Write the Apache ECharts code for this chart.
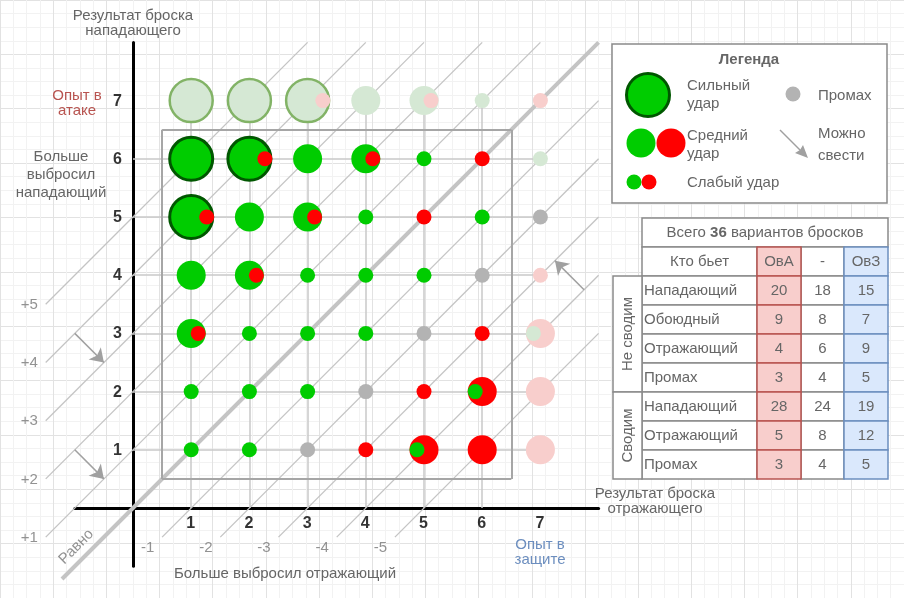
<!DOCTYPE html>
<html><head><meta charset="utf-8">
<script src="https://cdn.jsdelivr.net/npm/echarts@6/dist/echarts.min.js"></script>
<style>html,body{margin:0;padding:0;background:#fff}#c{width:904px;height:598px}</style>
</head><body><div id="c"></div>
<script>
// ---------- DATA ----------
const xTicks = [1, 2, 3, 4, 5, 6, 7];
const yTicks = [1, 2, 3, 4, 5, 6, 7];
const upperDiagK = [1, 2, 3, 4, 5];   // lines y = x + k
const lowerDiagK = [1, 2, 3, 4, 5];   // lines y = x - k
const strongGreen = [[1, 6], [2, 6], [1, 5]];
const mediumGreen = [[3, 6], [4, 6], [2, 5], [3, 5], [1, 4], [2, 4], [1, 3]];
const mediumRed = [[6, 2], [5, 1], [6, 1]];
const smallGreen = [[5, 6], [4, 5], [6, 5], [3, 4], [4, 4], [5, 4], [2, 3], [3, 3], [4, 3], [1, 2], [2, 2], [3, 2], [1, 1], [2, 1], [6, 2], [5, 1]];
const smallRed = [[2, 6], [4, 6], [6, 6], [1, 5], [3, 5], [5, 5], [2, 4], [1, 3], [6, 3], [5, 2], [4, 1]];
const smallGray = [[7, 5], [6, 4], [5, 3], [4, 2], [3, 1]];
const expLarge = [[1, 7], [2, 7], [3, 7]];
const expMediumGreen = [[4, 7], [5, 7]];
const expSmallGreen = [[6, 7], [7, 6], [7, 3]];
const expMediumPink = [[7, 3], [7, 2], [7, 1]];
const expSmallPink = [[3, 7], [5, 7], [7, 7], [7, 4]];
const reduceArrows = [[-1, 3, -0.5, 2.5], [-1, 1, -0.5, 0.5], [7.75, 3.75, 7.25, 4.25]];

const tableTotal = 36;
const tableCols = ['ОвА', '-', 'ОвЗ'];
const tableGroups = ['Не сводим', 'Сводим'];
const groupSizes = [4, 3];
const rowLabels = ['Нападающий', 'Обоюдный', 'Отражающий', 'Промах', 'Нападающий', 'Отражающий', 'Промах'];
const valOvA = [20, 9, 4, 3, 28, 5, 3];
const valMid = [18, 8, 6, 4, 24, 8, 4];
const valOvZ = [15, 7, 9, 5, 19, 12, 5];

// ---------- LAYOUT ----------
const U = 58.2, OX = 133, OY = 508;
const FF = '"Liberation Sans", Arial, sans-serif';
const TXT = '#666666';
const GREEN = '#00cc00', RED = '#ff0000', GRAY = '#b3b3b3';
const FGREEN = '#d5e8d4', FGREEN_B = '#82b366', PINK = '#f8cecc';
const SZ = { strong: 43, strongB: 3, exp: 43, expB: 2.5, medium: 29, small: 15 };

function has(arr, x, y) { return arr.some(p => p[0] === x && p[1] === y); }
function outerR(x, y) {
  if (has(strongGreen, x, y)) return (SZ.strong + SZ.strongB) / 2;
  if (has(expLarge, x, y)) return (SZ.exp + SZ.expB) / 2;
  if (has(mediumGreen, x, y) || has(mediumRed, x, y) || has(expMediumGreen, x, y) || has(expMediumPink, x, y)) return SZ.medium / 2;
  return 0;
}
function smallItems(arr, dir) {
  return arr.map(([x, y]) => {
    const R = outerR(x, y);
    return { value: [x, y], symbolOffset: [R ? dir * (R - SZ.small / 2) : 0, 0] };
  });
}
function bubble(name, data, size, style) {
  return { type: 'scatter', name, xAxisIndex: 1, yAxisIndex: 1, symbol: 'circle', symbolSize: size,
    data, itemStyle: Object.assign({ opacity: 1 }, style), silent: true, z: 5, clip: false };
}
function seg(x1, y1, x2, y2) { return { coords: [[x1, y1], [x2, y2]] }; }

// structural lines
const gridSegs = [];
xTicks.slice(0, 6).forEach(v => gridSegs.push(seg(v, 0, v, 7)));
yTicks.slice(0, 6).forEach(v => gridSegs.push(seg(0, v, 7, v)));
const rectSegs = [seg(0.5, 0.5, 6.5, 0.5), seg(6.5, 0.5, 6.5, 6.5), seg(6.5, 6.5, 0.5, 6.5), seg(0.5, 6.5, 0.5, 0.5)];
const diagSegs = [];
upperDiagK.forEach(k => diagSegs.push(seg(-1.5, k - 1.5, 8 - k, 8)));
lowerDiagK.forEach(k => diagSegs.push(seg(k - 0.5, -0.5, 8, 8 - k)));

function linesSeries(data, color, width, extra) {
  return Object.assign({ type: 'lines', coordinateSystem: 'cartesian2d', xAxisIndex: 1, yAxisIndex: 1,
    polyline: false, silent: true, clip: false, z: 2, symbol: 'none',
    lineStyle: { color, width, opacity: 1, curveness: 0 }, data }, extra || {});
}
function labelSeries(data, label) {
  return { type: 'scatter', xAxisIndex: 1, yAxisIndex: 1, symbolSize: 1, itemStyle: { color: 'rgba(0,0,0,0)' },
    silent: true, clip: false, z: 8, data,
    label: Object.assign({ show: true, formatter: p => p.name, align: 'center', verticalAlign: 'middle' }, label) };
}

const labelFont = { fontFamily: FF, fontSize: 15, color: '#777' };
const tickFont = { fontFamily: FF, fontSize: 16, fontWeight: 'bold', color: '#000' };

const series = [
  linesSeries(gridSegs, '#c8c8c8', 1.5),
  linesSeries(diagSegs, '#c4c4c4', 1.3),
  linesSeries([seg(-1.22, -1.22, 8, 8)], '#c4c4c4', 4),
  linesSeries(rectSegs, '#a6a6a6', 2),
  linesSeries(reduceArrows.map(a => seg(a[0], a[1], a[2], a[3])), '#a0a0a0', 1.5,
    { symbol: ['none', 'arrow'], symbolSize: [10, 13] }),
  // tick labels
  labelSeries(xTicks.map(v => ({ value: [v, 0], name: String(v) })), Object.assign({ position: [0, 16] }, tickFont)),
  labelSeries(yTicks.map(v => ({ value: [0, v], name: String(v) })), Object.assign({ position: [-15, 1] }, tickFont)),
  // diagonal labels
  labelSeries(upperDiagK.map(k => ({ value: [-1.5, k - 1.5], name: '+' + k })), Object.assign({ position: [-16, 1] }, labelFont)),
  labelSeries(lowerDiagK.map(k => ({ value: [k - 0.5, -0.5], name: '-' + k })), Object.assign({ position: [-14, 11] }, labelFont)),
  labelSeries([{ value: [-1, -1], name: 'Равно' }], Object.assign({ position: [2, -19], rotate: 45 }, labelFont)),
  // bubbles
  bubble('expLarge', expLarge, SZ.exp, { color: FGREEN, borderColor: FGREEN_B, borderWidth: SZ.expB }),
  bubble('expMediumGreen', expMediumGreen, SZ.medium, { color: FGREEN }),
  bubble('expMediumPink', expMediumPink, SZ.medium, { color: PINK }),
  bubble('strong', strongGreen, SZ.strong, { color: GREEN, borderColor: '#005700', borderWidth: SZ.strongB }),
  bubble('mediumGreen', mediumGreen, SZ.medium, { color: GREEN }),
  bubble('mediumRed', mediumRed, SZ.medium, { color: RED }),
  bubble('smallGreen', smallItems(smallGreen, -1), SZ.small, { color: GREEN }),
  bubble('smallRed', smallItems(smallRed, 1), SZ.small, { color: RED }),
  bubble('smallGray', smallItems(smallGray, 1), SZ.small, { color: GRAY }),
  bubble('expSmallGreen', smallItems(expSmallGreen, -1), SZ.small, { color: FGREEN }),
  bubble('expSmallPink', smallItems(expSmallPink, 1), SZ.small, { color: PINK })
];

// ---------- GRAPHIC (texts, legend, table) ----------
const G = [];
function text(x, y, t, o) {
  G.push({ type: 'text', x, y, rotation: (o && o.rot) || 0, silent: true, z: 20,
    style: Object.assign({ text: t, x: 0, y: 0, fill: TXT, fontSize: 15, fontFamily: FF,
      align: 'center', verticalAlign: 'middle', lineHeight: 16 }, (o && o.s) || {}) });
}
text(133, 23, 'Результат броска\nнападающего', { s: { lineHeight: 15 } });
text(77, 103, 'Опыт в\nатаке', { s: { fill: '#b85450', lineHeight: 15 } });
text(61, 175, 'Больше\nвыбросил\nнападающий', { s: { lineHeight: 18 } });
text(655, 501, 'Результат броска\nотражающего', { s: { lineHeight: 15 } });
text(540, 552, 'Опыт в\nзащите', { s: { fill: '#6c8ebf', lineHeight: 15 } });
text(285, 574, 'Больше выбросил отражающий');

// legend
G.push({ type: 'rect', shape: { x: 612, y: 44, width: 275, height: 159 }, silent: true, z: 10,
  style: { fill: '#fff', stroke: '#8a8a8a', lineWidth: 1.5 } });
text(749, 60, 'Легенда', { s: { fontWeight: 'bold' } });
function circ(cx, cy, r, fill, stroke, lw) {
  G.push({ type: 'circle', shape: { cx, cy, r }, silent: true, z: 15, style: { fill, stroke: stroke || null, lineWidth: lw || 0 } });
}
circ(648, 95, SZ.strong / 2, GREEN, '#005700', SZ.strongB);
circ(641, 143, SZ.medium / 2, GREEN); circ(671, 143, SZ.medium / 2, RED);
circ(634, 182, SZ.small / 2, GREEN); circ(649, 182, SZ.small / 2, RED);
circ(793, 94, SZ.small / 2, GRAY);
text(687, 95, 'Сильный\nудар', { s: { align: 'left', lineHeight: 18 } });
text(687, 145, 'Средний\nудар', { s: { align: 'left', lineHeight: 18 } });
text(687, 183, 'Слабый удар', { s: { align: 'left' } });
text(818, 96, 'Промах', { s: { align: 'left' } });
text(818, 145, 'Можно\nсвести', { s: { align: 'left', lineHeight: 22 } });
G.push({ type: 'line', shape: { x1: 780, y1: 130, x2: 804, y2: 154 }, silent: true, z: 15, style: { stroke: '#a0a0a0', lineWidth: 1.5 } });
G.push({ type: 'polygon', shape: { points: [[808, 158], [795, 153], [800, 150], [803, 145]] }, silent: true, z: 15, style: { fill: '#a0a0a0' } });

// table
const TX = [613, 642, 757, 801, 844, 888];
const TY = i => 218 + 29 * i;
function cell(x1, y1, x2, y2, fill, stroke, z) {
  G.push({ type: 'rect', shape: { x: x1, y: y1, width: x2 - x1, height: y2 - y1 }, silent: true, z: z || 10,
    style: { fill, stroke, lineWidth: 1.5 } });
}
const TB = '#8a8a8a';
cell(TX[1], TY(0), TX[5], TY(1), '#fff', TB);
G.push({ type: 'text', x: (TX[1] + TX[5]) / 2, y: TY(0) + 15, silent: true, z: 20,
  style: { text: 'Всего {b|' + tableTotal + '} вариантов бросков', x: 0, y: 0, fill: TXT, fontSize: 15, fontFamily: FF,
    align: 'center', verticalAlign: 'middle', rich: { b: { fontWeight: 'bold', fontSize: 15, fontFamily: FF, fill: TXT } } } });
cell(TX[1], TY(1), TX[2], TY(2), '#fff', TB);
text((TX[1] + TX[2]) / 2, TY(1) + 15, 'Кто бьет');
const colStyle = [['#f8cecc', '#b85450'], ['#fff', TB], ['#dae8fc', '#6c8ebf']];
const colVals = [valOvA, valMid, valOvZ];
for (let c = 0; c < 3; c++) {
  const zc = c === 1 ? 10 : 12;
  cell(TX[2 + c], TY(1), TX[3 + c], TY(2), colStyle[c][0], colStyle[c][1], zc);
  text((TX[2 + c] + TX[3 + c]) / 2, TY(1) + 15, tableCols[c]);
  colVals[c].forEach((v, r) => {
    cell(TX[2 + c], TY(2 + r), TX[3 + c], TY(3 + r), colStyle[c][0], colStyle[c][1], zc);
    text((TX[2 + c] + TX[3 + c]) / 2, TY(2 + r) + 15, String(v));
  });
}
rowLabels.forEach((l, r) => {
  cell(TX[1], TY(2 + r), TX[2], TY(3 + r), '#fff', TB);
  text(TX[1] + 2, TY(2 + r) + 15, l, { s: { align: 'left' } });
});
let gr = 2;
tableGroups.forEach((g, i) => {
  cell(TX[0], TY(gr), TX[1], TY(gr + groupSizes[i]), '#fff', TB);
  text((TX[0] + TX[1]) / 2, (TY(gr) + TY(gr + groupSizes[i])) / 2, g, { rot: Math.PI / 2 });
  gr += groupSizes[i];
});

// ---------- OPTION ----------
const hidden = { axisLine: { show: false }, axisTick: { show: false }, axisLabel: { show: false } };
const option = {
  animation: false,
  backgroundColor: '#fff',
  grid: [
    { left: OX - 3 * U, top: OY - 9 * U, width: 17 * U, height: 11 * U, containLabel: false },
    { left: OX - U, top: OY - 8 * U, width: 9 * U, height: 9 * U, containLabel: false }
  ],
  xAxis: [
    Object.assign({ gridIndex: 0, type: 'value', min: -3, max: 14, interval: 1,
      splitLine: { show: true, lineStyle: { color: '#e2e2e2', width: 1 } },
      minorTick: { show: false, splitNumber: 4 },
      minorSplitLine: { show: true, lineStyle: { color: '#f2f2f2', width: 1 } } }, hidden),
    { gridIndex: 1, type: 'value', min: -1, max: 8, interval: 1,
      axisLine: { show: true, onZero: true, lineStyle: { color: '#000', width: 3 } },
      axisTick: { show: false }, splitLine: { show: false }, axisLabel: { show: false } }
  ],
  yAxis: [
    Object.assign({ gridIndex: 0, type: 'value', min: -2, max: 9, interval: 1,
      splitLine: { show: true, lineStyle: { color: '#e2e2e2', width: 1 } },
      minorTick: { show: false, splitNumber: 4 },
      minorSplitLine: { show: true, lineStyle: { color: '#f2f2f2', width: 1 } } }, hidden),
    { gridIndex: 1, type: 'value', min: -1, max: 8, interval: 1,
      axisLine: { show: true, onZero: true, lineStyle: { color: '#000', width: 3 } },
      axisTick: { show: false }, splitLine: { show: false }, axisLabel: { show: false } }
  ],
  series,
  graphic: G
};
const chart = echarts.init(document.getElementById('c'), null, { renderer: 'canvas' });
chart.setOption(option);
</script></body></html>
